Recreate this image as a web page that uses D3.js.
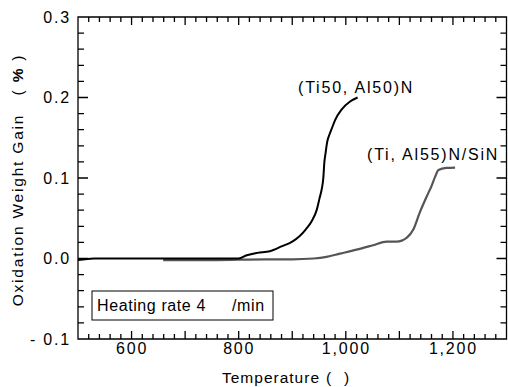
<!DOCTYPE html>
<html>
<head>
<meta charset="utf-8">
<script src="https://cdn.jsdelivr.net/npm/d3@7"></script>
<style>
  html, body { margin: 0; padding: 0; background: #fff; }
  svg text { font-family: "Liberation Sans", Arial, sans-serif; fill: #000; letter-spacing: 1.8px; }
</style>
</head>
<body>
<svg id="chart" width="508" height="387"></svg>
<script>
// ---- data ----
const tiAl50Temp = [500, 530, 560, 700, 800, 815, 835, 858, 880, 900, 914, 925, 936, 946, 951, 955, 958, 960, 962, 965, 970, 973, 980, 992, 1008, 1022];
const tiAl50Gain = [-0.002, 0.000, 0.000, 0.000, 0.000, 0.004, 0.007, 0.009, 0.015, 0.021, 0.028, 0.036, 0.046, 0.061, 0.075, 0.086, 0.100, 0.120, 0.130, 0.144, 0.155, 0.160, 0.172, 0.185, 0.195, 0.200];
const tiAl55SiTemp = [659, 750, 850, 900, 940, 964, 989, 1020, 1051, 1076, 1095, 1114, 1126, 1138, 1151, 1160, 1167, 1173, 1188, 1204];
const tiAl55SiGain = [-0.002, -0.002, -0.001, -0.001, 0.000, 0.002, 0.006, 0.011, 0.0165, 0.021, 0.021, 0.026, 0.036, 0.057, 0.077, 0.090, 0.102, 0.110, 0.1125, 0.113];
const xTickValues = [600, 800, 1000, 1200];
const xTickLabels = ["600", "800", "1,000", "1,200"];
const yTickValues = [0.3, 0.2, 0.1, 0.0, -0.1];
const yTickLabels = ["0.3", "0.2", "0.1", "0.0", "- 0.1"];
const xMinorTicks = [520, 540, 560, 580, 620, 640, 660, 680, 720, 740, 760, 780, 820, 840, 860, 880, 920, 940, 960, 980, 1020, 1040, 1060, 1080, 1120, 1140, 1160, 1180, 1220, 1240, 1260, 1280];
const xMajorTicks = [600, 700, 800, 900, 1000, 1100, 1200];
const yMinorTicks = [-0.08, -0.06, -0.04, -0.02, 0.02, 0.04, 0.06, 0.08, 0.12, 0.14, 0.16, 0.18, 0.22, 0.24, 0.26, 0.28];
const yMajorTicks = [0.0, 0.1, 0.2];
const seriesNames = ["(Ti50, Al50)N", "(Ti, Al55)N/SiN"];

// ---- layout ----
const svg = d3.select("#chart");
const L = 78, R = 506.5, T = 17, B = 339;
const x = d3.scaleLinear().domain([500, 1300]).range([L, R]);
const y = d3.scaleLinear().domain([-0.1, 0.3]).range([B, T]);

// frame with inward tick "comb" traced as one continuous path
const xT = xMinorTicks.map(v => ({ p: x(v), len: 5 }))
  .concat(xMajorTicks.map(v => ({ p: x(v), len: 8 }))).sort((a, b) => a.p - b.p);
const yT = yMinorTicks.map(v => ({ p: y(v), len: 6 }))
  .concat(yMajorTicks.map(v => ({ p: y(v), len: 10 }))).sort((a, b) => a.p - b.p);
const fp = d3.path();
// top edge, left to right
fp.moveTo(L, T);
xT.forEach(t => { fp.lineTo(t.p, T); fp.lineTo(t.p, T + t.len); fp.lineTo(t.p, T); });
fp.lineTo(R, T);
// right edge, top to bottom
yT.forEach(t => { fp.lineTo(R, t.p); fp.lineTo(R - t.len, t.p); fp.lineTo(R, t.p); });
fp.lineTo(R, B);
// bottom edge, right to left
xT.slice().reverse().forEach(t => { fp.lineTo(t.p, B); fp.lineTo(t.p, B - t.len); fp.lineTo(t.p, B); });
fp.lineTo(L, B);
// left edge, bottom to top
yT.slice().reverse().forEach(t => { fp.lineTo(L, t.p); fp.lineTo(L + t.len, t.p); fp.lineTo(L, t.p); });
fp.closePath();
svg.append("path").attr("d", fp.toString()).attr("fill", "none")
  .attr("stroke", "#000").attr("stroke-width", 1.3).attr("stroke-linejoin", "miter");

// tick labels via d3 axes
const xAxis = d3.axisBottom(x).tickValues(xTickValues)
  .tickFormat((d, i) => xTickLabels[i]).tickSize(0).tickPadding(4);
const gx = svg.append("g").attr("transform", `translate(0,${B})`).call(xAxis);
gx.select(".domain").remove();
gx.selectAll("text").attr("font-size", 16).attr("font-family", "Liberation Sans, Arial, sans-serif").attr("fill", "#000");

const yAxis = d3.axisLeft(y).tickValues(yTickValues)
  .tickFormat((d, i) => yTickLabels[i]).tickSize(0).tickPadding(7);
const gy = svg.append("g").attr("transform", `translate(${L},0)`).call(yAxis);
gy.select(".domain").remove();
gy.selectAll("text").attr("font-size", 16).attr("font-family", "Liberation Sans, Arial, sans-serif").attr("fill", "#000");

// axis titles
const xt = svg.append("text").attr("y", 383).attr("font-size", 15.5).style("letter-spacing", "1px");
xt.append("tspan").attr("x", 222).text("Temperature");
xt.append("tspan").attr("x", 326).text("(");
xt.append("tspan").attr("x", 344).text(")");

const yt = svg.append("text").attr("transform", `translate(23,${(T + B) / 2 + 2}) rotate(-90)`)
  .attr("text-anchor", "middle").attr("font-size", 15.5);
yt.append("tspan").text("Oxidation Weight Gain\u00a0\u00a0\u00a0(\u00a0");
yt.append("tspan").attr("font-weight", "bold").text("%");
yt.append("tspan").text("\u00a0)");

// lines
const line = d3.line().x(d => x(d[0])).y(d => y(d[1])).curve(d3.curveMonotoneX);
const s1 = tiAl50Temp.map((t, i) => [t, tiAl50Gain[i]]);
const s2 = tiAl55SiTemp.map((t, i) => [t, tiAl55SiGain[i]]);
svg.append("path").datum(s2).attr("d", line).attr("fill", "none")
  .attr("stroke", "#555").attr("stroke-width", 2.2);
svg.append("path").datum(s1).attr("d", line).attr("fill", "none")
  .attr("stroke", "#000").attr("stroke-width", 2);

// series labels
svg.append("text").attr("x", 298).attr("y", 93).attr("font-size", 16).text(seriesNames[0]);
svg.append("text").attr("x", 367).attr("y", 160).attr("font-size", 16).text(seriesNames[1]);

// legend box
svg.append("rect").attr("x", 92).attr("y", 291).attr("width", 181).attr("height", 29)
  .attr("fill", "#fff").attr("stroke", "#000").attr("stroke-width", 1);
svg.append("text").attr("x", 97).attr("y", 311).attr("font-size", 16).style("letter-spacing", "0.6px").text("Heating rate 4");
svg.append("text").attr("x", 232).attr("y", 311).attr("font-size", 16).style("letter-spacing", "0.6px").text("/min");
</script>
</body>
</html>
